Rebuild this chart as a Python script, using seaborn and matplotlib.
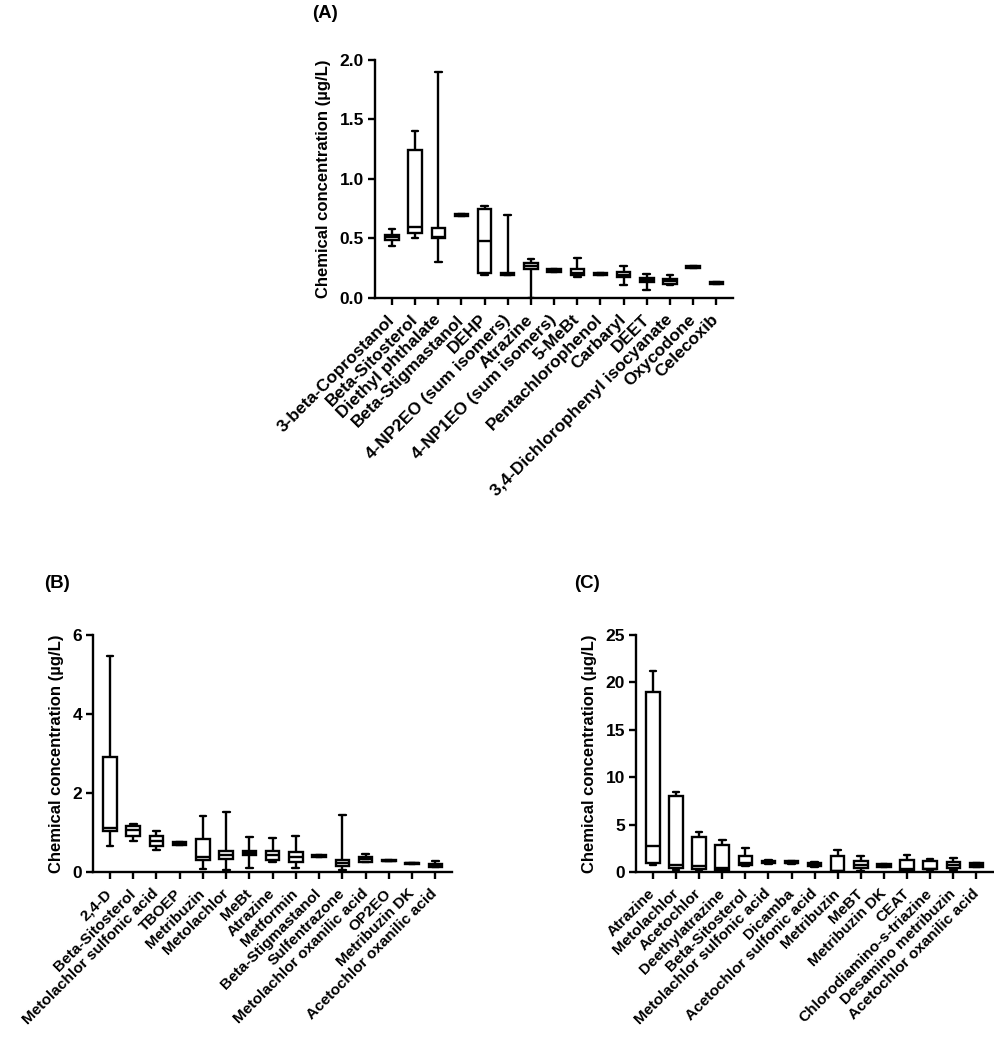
import matplotlib
matplotlib.use("Agg")
import matplotlib.pyplot as plt
import pandas as pd
import seaborn as sns

# Panel A - chemicals and five-number summaries (min, q1, median, q3, max), ug/L
names_a = ["3-beta-Coprostanol", "Beta-Sitosterol", "Diethyl phthalate", "Beta-Stigmastanol",
           "DEHP", "4-NP2EO (sum isomers)", "Atrazine", "4-NP1EO (sum isomers)", "5-MeBt",
           "Pentachlorophenol", "Carbaryl", "DEET", "3,4-Dichlorophenyl isocyanate",
           "Oxycodone", "Celecoxib"]
min_a = [0.44, 0.50, 0.30, 0.69, 0.19, 0.19, 0.00, 0.22, 0.18, 0.19, 0.11, 0.065, 0.11, 0.25, 0.115]
q1_a = [0.49, 0.55, 0.50, 0.69, 0.21, 0.19, 0.245, 0.22, 0.19, 0.19, 0.18, 0.135, 0.12, 0.25, 0.115]
med_a = [0.51, 0.60, 0.51, 0.70, 0.48, 0.20, 0.27, 0.23, 0.21, 0.20, 0.19, 0.15, 0.14, 0.26, 0.125]
q3_a = [0.53, 1.24, 0.59, 0.71, 0.75, 0.21, 0.29, 0.24, 0.24, 0.21, 0.22, 0.17, 0.16, 0.27, 0.135]
max_a = [0.58, 1.40, 1.90, 0.71, 0.77, 0.70, 0.33, 0.24, 0.34, 0.21, 0.27, 0.20, 0.19, 0.27, 0.135]

# Panel B
names_b = ["2,4-D", "Beta-Sitosterol", "Metolachlor sulfonic acid", "TBOEP", "Metribuzin",
           "Metolachlor", "MeBt", "Atrazine", "Metformin", "Beta-Stigmastanol", "Sulfentrazone",
           "Metolachlor oxanilic acid", "OP2EO", "Metribuzin DK", "Acetochlor oxanilic acid"]
min_b = [0.65, 0.79, 0.56, 0.69, 0.08, 0.04, 0.10, 0.25, 0.10, 0.39, 0.06, 0.26, 0.27, 0.20, 0.13]
q1_b = [1.05, 0.90, 0.67, 0.69, 0.31, 0.34, 0.42, 0.31, 0.25, 0.39, 0.16, 0.26, 0.27, 0.20, 0.13]
med_b = [1.12, 1.07, 0.79, 0.72, 0.39, 0.44, 0.47, 0.42, 0.37, 0.41, 0.23, 0.33, 0.29, 0.22, 0.16]
q3_b = [2.90, 1.17, 0.92, 0.75, 0.84, 0.54, 0.52, 0.52, 0.51, 0.43, 0.31, 0.38, 0.31, 0.24, 0.19]
max_b = [5.47, 1.22, 1.04, 0.75, 1.41, 1.53, 0.88, 0.87, 0.90, 0.43, 1.44, 0.46, 0.31, 0.24, 0.28]

# Panel C
names_c = ["Atrazine", "Metolachlor", "Acetochlor", "Deethylatrazine", "Beta-Sitosterol",
           "Metolachlor sulfonic acid", "Dicamba", "Acetochlor sulfonic acid", "Metribuzin",
           "MeBT", "Metribuzin DK", "CEAT", "Chlorodiamino-s-triazine", "Desamino metribuzin",
           "Acetochlor oxanilic acid"]
min_c = [0.77, 0.25, 0.07, 0.05, 0.65, 0.85, 0.85, 0.55, 0.05, 0.07, 0.55, 0.20, 0.25, 0.20, 0.50]
q1_c = [0.95, 0.42, 0.32, 0.20, 0.70, 0.90, 0.90, 0.60, 0.07, 0.42, 0.55, 0.24, 0.32, 0.42, 0.53]
med_c = [2.70, 0.77, 0.67, 0.45, 0.95, 1.05, 1.00, 0.80, 0.15, 0.77, 0.67, 0.30, 0.35, 0.77, 0.70]
q3_c = [19.0, 7.97, 3.65, 2.88, 1.69, 1.20, 1.15, 1.00, 1.72, 1.12, 0.80, 1.30, 1.12, 1.05, 0.95]
max_c = [21.24, 8.43, 4.21, 3.34, 2.49, 1.25, 1.20, 1.05, 2.35, 1.72, 0.80, 1.75, 1.37, 1.47, 0.95]

sns.set_style("ticks")
plt.rcParams['font.family'] = ['Liberation Sans', 'DejaVu Sans']
plt.rcParams['font.weight'] = 'bold'
plt.rcParams['axes.labelweight'] = 'bold'
plt.rcParams['text.color'] = 'black'
plt.rcParams['axes.labelcolor'] = 'black'
plt.rcParams['xtick.color'] = 'black'
plt.rcParams['ytick.color'] = 'black'


def to_long(names, mins, q1s, meds, q3s, maxs):
    # five points per chemical -> quartiles land exactly on the summary values
    rows = []
    for i, n in enumerate(names):
        for v in (mins[i], q1s[i], meds[i], q3s[i], maxs[i]):
            rows.append({'chem': n, 'value': v})
    return pd.DataFrame(rows)


def draw_panel(ax, df, names, ymax, yticks, fmt, xfs):
    sns.boxplot(data=df, x='chem', y='value', order=names, whis=(0, 100),
                color='white', linecolor='black', linewidth=1.7, width=0.58,
                saturation=1, showfliers=False, ax=ax)
    ax.set_ylim(0, ymax)
    ax.set_xlim(-0.73, 14.72)
    ax.set_yticks(yticks)
    ax.set_yticklabels([fmt.format(t) for t in yticks], fontsize=12.5, fontweight='bold')
    ax.set_xticks(range(len(names)))
    ax.set_xticklabels(names, rotation=45, ha='right', va='center',
                       rotation_mode='anchor', fontsize=xfs, fontweight='bold')
    ax.tick_params(axis='x', length=5, width=1.7, pad=9, colors='black')
    ax.tick_params(axis='y', length=5, width=1.7, pad=3, colors='black')
    ax.set_xlabel('')
    ax.set_ylabel('Chemical concentration (µg/L)', fontsize=12, fontweight='bold',
                  color='black', labelpad=6)
    for s in ['top', 'right']:
        ax.spines[s].set_visible(False)
    for s in ['left', 'bottom']:
        ax.spines[s].set_linewidth(1.7)
        ax.spines[s].set_color('black')


fig = plt.figure(figsize=(9.94, 10.5), dpi=100)

ax_a = fig.add_axes([375 / 994, 1 - 298 / 1050, 358 / 994, 238 / 1050])
ax_b = fig.add_axes([93 / 994, 1 - 872 / 1050, 359 / 994, 237 / 1050])
ax_c = fig.add_axes([636 / 994, 1 - 872 / 1050, 357 / 994, 237 / 1050])

draw_panel(ax_a, to_long(names_a, min_a, q1_a, med_a, q3_a, max_a), names_a,
           2.0, [0.0, 0.5, 1.0, 1.5, 2.0], '{:.1f}', 12.4)
draw_panel(ax_b, to_long(names_b, min_b, q1_b, med_b, q3_b, max_b), names_b,
           6, [0, 2, 4, 6], '{:.0f}', 11.1)
draw_panel(ax_c, to_long(names_c, min_c, q1_c, med_c, q3_c, max_c), names_c,
           25, [0, 5, 10, 15, 20, 25], '{:.0f}', 11.1)

# Panel letters
fig.text(312 / 994, 1 - 14 / 1050, '(A)', fontsize=13.5, fontweight='bold', va='center')
fig.text(44 / 994, 1 - 583 / 1050, '(B)', fontsize=13.5, fontweight='bold', va='center')
fig.text(574 / 994, 1 - 583 / 1050, '(C)', fontsize=13.5, fontweight='bold', va='center')

fig.savefig('out.png', dpi=100)
